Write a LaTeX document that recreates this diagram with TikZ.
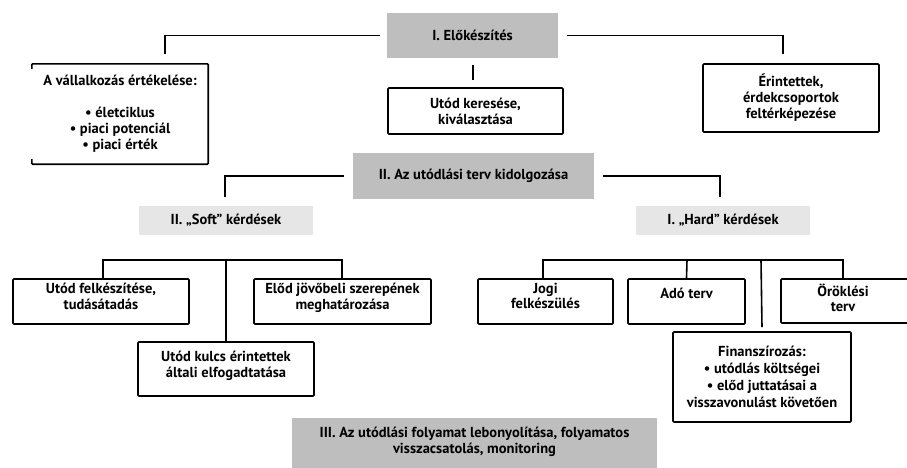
\documentclass[tikz,border=0pt]{standalone}
\usepackage{fontspec}
\setmainfont{PT Sans}
\definecolor{darkbox}{HTML}{BEBEBE}
\definecolor{lightbox}{HTML}{E6E6E6}
\begin{document}
\begin{tikzpicture}[x=1pt,y=-1pt,
  every node/.style={font=\bfseries\fontsize{14.5}{16}\selectfont, align=center, inner sep=0pt},
  phase/.style={fill=darkbox, draw=none, minimum width=#1},
  sub/.style={fill=lightbox, draw=none, minimum width=174, minimum height=29},
  item/.style={draw=black, line width=1.6pt, rounded corners=1pt, minimum width=#1},
  conn/.style={draw=black, line width=1.6pt}
]
\useasboundingbox (0,0) rectangle (907,467);

% Phase I
\node[phase=171, minimum height=45] (p1) at (472.5,35.5) {I. Előkészítés};
\node[minimum width=176, minimum height=100] (a) at (120,114)
  {A vállalkozás értékelése:\\[16pt] • életciklus\\ • piaci potenciál\\ • piaci érték};
\draw[line width=1.6pt, rounded corners=1pt] ([yshift=-5]a.north west) -- (a.north west) -- (a.north east)
  -- (a.south east) -- (a.south west) -- ([yshift=5]a.south west);
\node[item=175, minimum height=46] (b) at (475.5,111) {Utód keresése,\\ kiválasztása};
\node[item=176, minimum height=68] (c) at (791,98) {Érintettek,\\ érdekcsoportok\\ feltérképezése};

\coordinate (aL) at (165,54);
\coordinate (cR) at (783,54);
\draw[conn] ([xshift=-7]p1.west) -| (aL);
\draw[conn] ([xshift=9]p1.east) -| (cR);
\draw[conn] (473,65) -- (473,80);

% Phase II
\node[phase=241, minimum height=46] (p2) at (473.5,176) {II. Az utódlási terv kidolgozása};
\node[sub] (soft) at (226,220.5) {II. „Soft” kérdések};
\node[sub] (hard) at (723,220.5) {I. „Hard” kérdések};
\coordinate (sL) at (225,197);
\coordinate (hR) at (720,197);
\draw[conn] ([xshift=-9]p2.west) -| (sL);
\draw[conn] ([xshift=9]p2.east) -| (hR);

% Soft children
\node[item=176, minimum height=45] (uf) at (101,301.5) {Utód felkészítése,\\ tudásátadás\\[-6pt]~};
\node[item=177, minimum height=45] (ej) at (342.5,301.5) {Előd jövőbeli szerepének\\ meghatározása\\[-6pt]~};
\node[item=176, minimum height=54] (uk) at (226,369) {Utód kulcs érintettek\\ általi elfogadtatása\\[-6pt]~};
\draw[conn] (uf.north) ++(2,0) |- (226,260) -| ([xshift=-0.5]ej.north);
\draw[conn] (226,260) -- (uk.north);

% Hard children
\node[item=135, minimum height=45] (jogi) at (545.5,301.5) {Jogi\\[-1pt] felkészülés\\[-5pt]~};
\node[item=117, minimum height=45] (ado) at (686.5,301.5) {Adó terv\\~};
\draw[line width=1.6pt, rounded corners=1pt] (915,279) -- (781,279) -- (781,323) -- (915,323);
\node (orok) at (843,298) {Öröklési\\[-1pt] terv};
\node[item=178, minimum height=90] (fin) at (762,377) {Finanszírozás:\\[1pt] • utódlás költségei\\[1pt] • előd juttatásai a\\[1pt] visszavonulást követően};
\coordinate (hb) at (761,260);
\draw[conn] ([xshift=-2.5]jogi.north) |- (843,260) -- (843,279);
\draw[conn] (ado.north) -- (687,260);
\draw[conn] (hb) -- ([yshift=4]fin.north);

% Phase III
\node[phase=365, minimum height=52] (p3) at (474.5,444) {III. Az utódlási folyamat lebonyolítása, folyamatos\\ visszacsatolás, monitoring\\[-8pt]~};
\end{tikzpicture}
\end{document}
